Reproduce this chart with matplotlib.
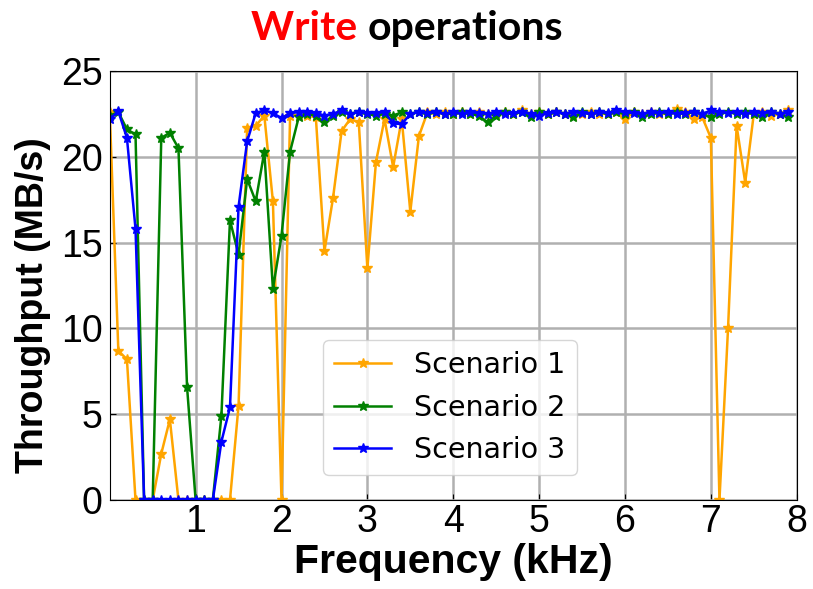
import numpy as np
import matplotlib
matplotlib.use("Agg")
import matplotlib.pyplot as plt

freq_khz = [round(0.1 * i, 1) for i in range(80)]

scenario_1 = [22.6, 8.7, 8.2, 0.0, 0.0, 0.0, 2.7, 4.7, 0.0, 0.0,
              0.0, 0.0, 0.0, 0.0, 0.0, 5.5, 21.7, 21.8, 22.4, 17.4,
              0.0, 22.4, 22.4, 22.4, 22.3, 14.5, 17.6, 21.5, 22.2, 22.0,
              13.5, 19.7, 22.2, 19.4, 22.2, 16.8, 21.2, 22.6, 22.5, 22.6,
              22.5, 22.6, 22.5, 22.6, 22.5, 22.5, 22.6, 22.5, 22.7, 22.5,
              22.6, 22.5, 22.6, 22.5, 22.4, 22.5, 22.6, 22.5, 22.5, 22.6,
              22.2, 22.6, 22.5, 22.6, 22.5, 22.5, 22.8, 22.6, 22.2, 22.3,
              21.1, 0.0, 10.0, 21.8, 18.5, 22.5, 22.6, 22.4, 22.5, 22.7]

scenario_2 = [22.4, 22.6, 21.6, 21.3, 0.0, 0.0, 21.1, 21.4, 20.5, 6.6,
              0.0, 0.0, 0.0, 4.9, 16.3, 14.3, 18.7, 17.4, 20.3, 12.3,
              15.4, 20.3, 22.3, 22.5, 22.4, 22.0, 22.4, 22.6, 22.5, 22.6,
              22.5, 22.4, 22.5, 22.4, 22.6, 22.5, 22.6, 22.5, 22.6, 22.5,
              22.5, 22.6, 22.5, 22.4, 22.0, 22.4, 22.6, 22.5, 22.6, 22.3,
              22.6, 22.5, 22.6, 22.5, 22.3, 22.6, 22.5, 22.6, 22.5, 22.6,
              22.5, 22.6, 22.3, 22.5, 22.6, 22.5, 22.6, 22.5, 22.6, 22.5,
              22.3, 22.5, 22.6, 22.5, 22.6, 22.5, 22.3, 22.6, 22.5, 22.3]

scenario_3 = [22.2, 22.65, 21.1, 15.8, 0.0, 0.0, 0.0, 0.0, 0.0, 0.0,
              0.0, 0.0, 0.0, 3.4, 5.4, 17.1, 20.9, 22.55, 22.7, 22.55,
              22.25, 22.55, 22.6, 22.6, 22.55, 22.4, 22.5, 22.7, 22.5, 22.6,
              22.55, 22.55, 22.6, 21.95, 21.9, 22.5, 22.6, 22.55, 22.6, 22.5,
              22.6, 22.5, 22.6, 22.55, 22.5, 22.6, 22.5, 22.55, 22.6, 22.5,
              22.4, 22.55, 22.6, 22.5, 22.6, 22.55, 22.5, 22.6, 22.55, 22.7,
              22.6, 22.55, 22.5, 22.6, 22.55, 22.6, 22.5, 22.55, 22.6, 22.5,
              22.7, 22.6, 22.55, 22.6, 22.5, 22.6, 22.55, 22.6, 22.5, 22.6]

series_labels = ["Scenario 1", "Scenario 2", "Scenario 3"]
series_colors = ["orange", "green", "blue"]
x_ticks = [1, 2, 3, 4, 5, 6, 7, 8]
y_ticks = [0, 5, 10, 15, 20, 25]

fig = plt.figure(figsize=(8.13, 5.89), dpi=100)
ax = fig.add_axes([0.135, 0.151, 0.845, 0.7285])

for vals, lab, col in zip([scenario_1, scenario_2, scenario_3], series_labels, series_colors):
    ax.plot(freq_khz, vals, color=col, marker="*", markersize=7, linewidth=1.8, label=lab)

ax.set_xlim(0, 8)
ax.set_ylim(0, 25)
ax.set_xticks(x_ticks)
ax.set_yticks(y_ticks)
ax.grid(True, color="#b0b0b0", linewidth=1.8)
ax.set_axisbelow(True)
ax.tick_params(direction="in", labelsize=27, length=4)
for lbl in ax.get_xticklabels() + ax.get_yticklabels():
    lbl.set_fontfamily("Liberation Sans")
ax.tick_params(axis="x", pad=3)
ax.tick_params(axis="y", pad=5)

ax.set_xlabel("Frequency (kHz)", fontsize=29.5, fontweight="bold", family="Liberation Sans", labelpad=2)
ax.set_ylabel("Throughput (MB/s)", fontsize=27, fontweight="bold", family="Liberation Sans",
              labelpad=7, y=0.455)

leg = ax.legend(loc="lower center", bbox_to_anchor=(0.495, 0.058), borderaxespad=0,
                fontsize=20.5, frameon=True, framealpha=0.8, edgecolor="#cccccc")

fig.text(0.452, 0.952, "Write ", color="red", fontsize=29.5, fontweight="bold",
         family="Lato", ha="right", va="center")
fig.text(0.452, 0.952, "operations", color="black", fontsize=29.5, fontweight="bold",
         family="Lato", ha="left", va="center")

fig.savefig("out.png", dpi=100)
